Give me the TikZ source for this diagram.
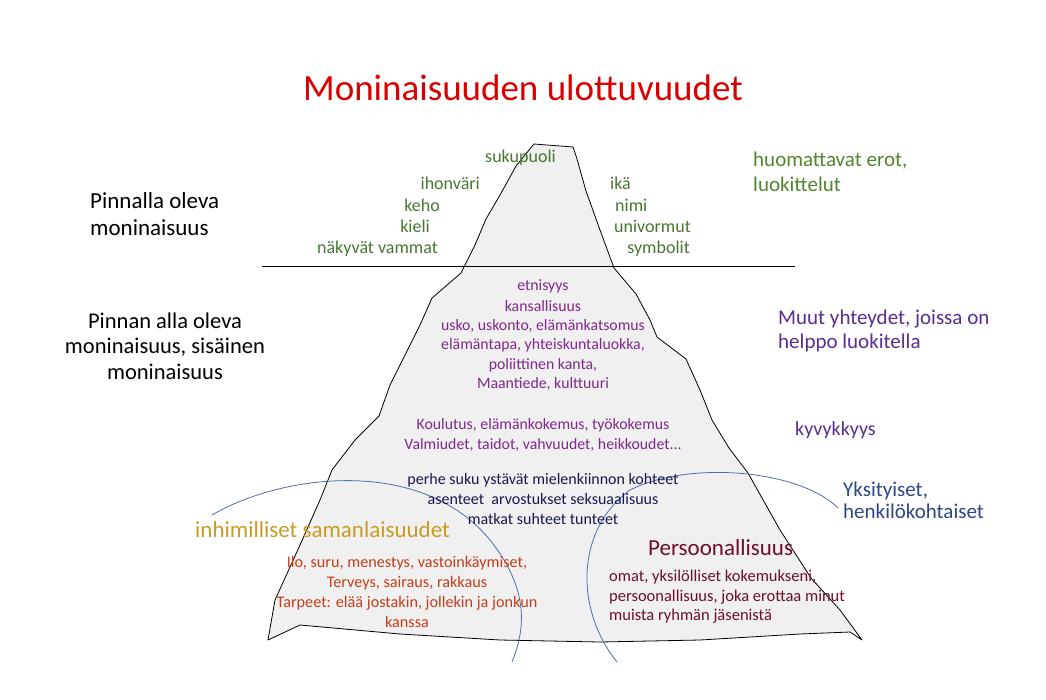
\documentclass[tikz,border=0pt]{standalone}
\usepackage{fontspec}
\setmainfont{Carlito}
\begin{document}
\begin{tikzpicture}[x=1pt,y=-1pt,
  txt/.style={inner sep=0pt,font=\fontsize{#1}{#1}\selectfont},
  arc/.style={draw=arcC,line width=0.8pt}]
\definecolor{purpleC}{RGB}{128,40,140}
\definecolor{grnC}{RGB}{70,120,50}
\definecolor{navyC}{RGB}{25,25,80}
\definecolor{goldC}{RGB}{200,155,35}
\definecolor{redC}{RGB}{200,60,25}
\definecolor{maroonC}{RGB}{110,15,40}
\definecolor{violC}{RGB}{90,45,145}
\definecolor{blueC}{RGB}{45,70,135}
\definecolor{arcC}{RGB}{80,110,170}
\tikzset{grn/.style={txt=18,text=grnC},
  pur/.style={txt=15.8,text=purpleC,align=center}}
\useasboundingbox[fill=white] (0,0) rectangle (1046,699);
% iceberg
\draw[fill=gray!12,line width=0.8pt,line join=round] (534,144) -- (573,147) -- (577,159) -- (586,191) -- (600,230) -- (614,268) -- (636,294) -- (650,320) -- (657,337) -- (686,359) -- (700,390) -- (712,420) -- (729,448) -- (748,473) -- (780,530) -- (811,578) -- (840,610) -- (862,640) -- (850,632) -- (800,634) -- (700,640) -- (600,642) -- (500,640) -- (400,634) -- (300,625) -- (268,640) -- (275,600) -- (300,545) -- (320,500) -- (332,470) -- (355,440) -- (379,416) -- (390,385) -- (407,351) -- (420,325) -- (432,298) -- (461,273) -- (475,245) -- (486,219) -- (500,195) -- (516,166) -- cycle;
\draw[line width=0.8pt] (262,266) coordinate (wl) -- (795,266) coordinate (wr);
% arcs
\draw[arc] (212,515) coordinate (a1) .. controls (280,475) and (420,455) .. (490,540) .. controls (530,590) and (525,630) .. (512,662) coordinate (a2);
\draw[arc] (838,508) coordinate (b1) .. controls (800,470) and (690,460) .. (630,490) .. controls (575,530) and (575,610) .. (617,662) coordinate (b2);
% title
\node[txt=37,text=red!85!black] (title) at (523,88) {Moninaisuuden ulottuvuudet};
% left labels
\node[txt=23,anchor=west,align=left] (pin) at (90,214) {Pinnalla oleva\\[4pt]moninaisuus};
\node[txt=22.5,align=center] (alla) at (165,346) {Pinnan alla oleva\\[3pt]moninaisuus, sisäinen\\[3pt]moninaisuus};
\node[txt=21,text=grnC!90!lime,anchor=west,align=left] (huom) at (753,172) {huomattavat erot,\\[4pt]luokittelut};
% green words
\node[grn,anchor=east] (s1) at (556,158) {sukupuoli};
\node[grn,anchor=east] (s2) at (480,183) {ihonväri};
\node[grn,anchor=east] (s3) at (440,205) {keho};
\node[grn,anchor=east] (s4) at (430,226) {kieli};
\node[grn,anchor=east] (s5) at (438,249) {näkyvät vammat};
\node[grn,anchor=west] (r1) at (610,183) {ikä};
\node[grn,anchor=west] (r2) at (615,205) {nimi};
\node[grn,anchor=east] (r3) at (691,226) {univormut};
\node[grn,anchor=east] (r4) at (690,249) {symbolit};
% purple
\node[pur] (p1) at (543,286) {etnisyys};
\node[pur] (p2) at (543,306) {kansallisuus};
\node[pur] (p3) at (543,326) {usko, uskonto, elämänkatsomus};
\node[pur] (p4) at (543,345) {elämäntapa, yhteiskuntaluokka,};
\node[pur] (p5) at (543,365) {poliittinen kanta,};
\node[pur] (p6) at (543,384) {Maantiede, kulttuuri};
\node[pur] (p7) at (543,425) {Koulutus, elämänkokemus, työkokemus};
\node[pur] (p8) at (543,445) {Valmiudet, taidot, vahvuudet, heikkoudet...};
\node[txt=21,text=violC,anchor=west,align=left] (muut) at (778,331) {Muut yhteydet, joissa on\\[3pt]helppo luokitella};
\node[txt=20,text=violC,anchor=west] (kyv) at (795,430) {kyvykkyys};
% navy
\node[txt=16,text=navyC] (n1) at (543,480) {perhe suku ystävät mielenkiinnon kohteet};
\node[txt=16,text=navyC] (n2) at (543,499) {asenteet\ \ arvostukset seksuaalisuus};
\node[txt=16,text=navyC] (n3) at (543,519) {matkat suhteet tunteet};
\node[txt=21,text=blueC,anchor=west,align=left] (yks) at (843,500) {Yksityiset,\\[1pt]henkilökohtaiset};
% gold / red
\node[txt=23,text=goldC,anchor=west] (inh) at (195,530) {inhimilliset samanlaisuudet};
\node[txt=16.2,text=redC] (h1) at (407,563) {Ilo, suru, menestys, vastoinkäymiset,};
\node[txt=16.2,text=redC] (h2) at (407,583) {Terveys, sairaus, rakkaus};
\node[txt=16.2,text=redC] (h3) at (407,603) {Tarpeet: elää jostakin, jollekin ja jonkun};
\node[txt=16.2,text=redC] (h4) at (407,622) {kanssa};
% persoonallisuus
\node[txt=23,text=maroonC,anchor=west] (pers) at (648,548) {Persoonallisuus};
\node[txt=16.5,text=maroonC,anchor=west] (o1) at (609,577) {omat, yksilölliset kokemukseni,};
\node[txt=16.5,text=maroonC,anchor=west] (o2) at (609,597) {persoonallisuus, joka erottaa minut};
\node[txt=16.5,text=maroonC,anchor=west] (o3) at (609,616) {muista ryhmän jäsenistä};
\end{tikzpicture}
\end{document}
